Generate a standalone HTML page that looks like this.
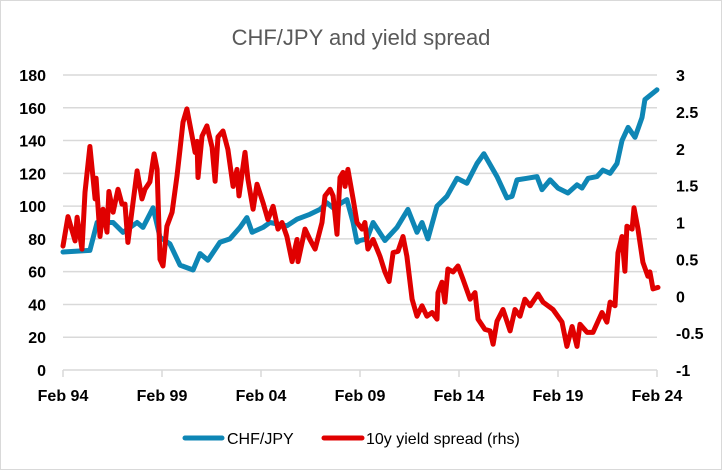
<!DOCTYPE html>
<html><head><meta charset="utf-8">
<style>
html,body{margin:0;padding:0;background:#fff;}
svg{display:block;font-family:"Liberation Sans",Calibri,sans-serif;}
</style></head>
<body>
<svg id="chart" width="722" height="470" viewBox="0 0 722 470" xmlns="http://www.w3.org/2000/svg">
<rect x="0.5" y="0.5" width="721" height="469" fill="#fff" stroke="#d9d9d9"/>
<text x="361" y="45" text-anchor="middle" font-size="22" fill="#595959">CHF/JPY and yield spread</text>
<g id="grid"></g>
<g id="axes"></g>
<g id="series"></g>
<g>
<line x1="185" y1="438" x2="222" y2="438" stroke="#0E86B5" stroke-width="5" stroke-linecap="round"/>
<text x="227" y="444" font-size="16" fill="#000">CHF/JPY</text>
<line x1="324" y1="438" x2="362" y2="438" stroke="#E00000" stroke-width="5" stroke-linecap="round"/>
<text x="366" y="444" font-size="16" fill="#000">10y yield spread (rhs)</text>
</g>
</svg>
<script>
const leftTicks=[0,20,40,60,80,100,120,140,160,180];
const rightTicks=[-1,-0.5,0,0.5,1,1.5,2,2.5,3];
const xTickYears=[1994.08,1999.08,2004.08,2009.08,2014.08,2019.08,2024.08];
const xTickLabels=["Feb 94","Feb 99","Feb 04","Feb 09","Feb 14","Feb 19","Feb 24"];
const chfDates=[1994.08,1995.44,1995.80,1996.61,1997.11,1997.82,1998.12,1998.63,1998.98,1999.48,1999.99,2000.65,2001.00,2001.40,2002.01,2002.51,2003.02,2003.37,2003.63,2004.18,2004.53,2005.39,2005.90,2006.55,2007.06,2007.41,2007.72,2008.42,2008.73,2008.93,2009.08,2009.43,2009.74,2010.34,2010.95,2011.50,2011.96,2012.21,2012.51,2012.97,2013.47,2013.98,2014.48,2014.99,2015.34,2016.00,2016.50,2016.76,2017.01,2017.51,2018.02,2018.27,2018.68,2019.08,2019.58,2020.04,2020.29,2020.60,2021.05,2021.35,2021.71,2022.06,2022.31,2022.62,2022.97,2023.32,2023.47,2024.08];
const chfValues=[72,73,90,90,84,90,87,99,81,77,64,61,71,67,78,80,87,93,84,87,90,88,92,95,98,102,99,104,90,78,79,80,90,79,87,98,84,90,80,100,106,117,114,126,132,118,105,106,116,117,118,110,116,111,108,113,111,117,118,122,120,126,140,148,142,154,165,171];
const spreadDates=[1994.08,1994.33,1994.69,1994.79,1995.04,1995.19,1995.44,1995.70,1995.75,1995.95,1996.10,1996.30,1996.40,1996.61,1996.86,1997.06,1997.21,1997.36,1997.82,1998.07,1998.22,1998.47,1998.68,1998.83,1998.98,1999.13,1999.33,1999.59,1999.84,1999.99,2000.14,2000.34,2000.60,2000.75,2000.85,2000.90,2001.10,2001.35,2001.61,2001.76,2001.91,2002.16,2002.41,2002.67,2002.87,2002.97,2003.27,2003.42,2003.68,2003.88,2004.18,2004.43,2004.69,2004.94,2005.14,2005.39,2005.65,2005.90,2005.95,2006.30,2006.55,2006.81,2007.16,2007.31,2007.57,2007.72,2007.92,2008.07,2008.22,2008.32,2008.47,2008.73,2008.93,2009.18,2009.33,2009.48,2009.74,2010.09,2010.34,2010.55,2010.75,2011.00,2011.25,2011.45,2011.71,2011.96,2012.21,2012.46,2012.72,2012.97,2013.02,2013.22,2013.37,2013.52,2013.78,2014.03,2014.28,2014.64,2014.89,2015.04,2015.39,2015.65,2015.80,2016.00,2016.30,2016.66,2016.91,2017.16,2017.41,2017.67,2018.07,2018.32,2018.83,2019.28,2019.53,2019.79,2020.04,2020.19,2020.55,2020.85,2021.30,2021.55,2021.71,2021.96,2022.11,2022.31,2022.46,2022.56,2022.82,2022.92,2023.12,2023.37,2023.62,2023.72,2023.88,2024.13];
const spreadValues=[0.68,1.08,0.75,1.07,0.64,1.41,2.03,1.32,1.60,0.81,1.18,0.87,1.42,1.14,1.45,1.25,1.25,0.73,1.70,1.32,1.45,1.55,1.93,1.72,0.50,0.41,0.95,1.14,1.63,1.99,2.36,2.54,2.17,1.95,2.10,1.61,2.17,2.31,2.02,1.56,2.16,2.24,1.99,1.49,1.72,1.36,1.95,1.59,1.18,1.52,1.27,1.04,1.22,0.91,1.00,0.81,0.47,0.77,0.47,0.91,0.77,0.64,1.00,1.36,1.45,1.36,0.84,1.61,1.68,1.49,1.72,1.32,1.00,0.91,1.00,0.64,0.77,0.54,0.33,0.20,0.59,0.61,0.81,0.54,-0.04,-0.27,-0.13,-0.27,-0.22,-0.31,0.05,0.19,-0.08,0.37,0.33,0.41,0.23,-0.04,0.05,-0.31,-0.45,-0.47,-0.65,-0.34,-0.18,-0.47,-0.18,-0.27,-0.04,-0.13,0.03,-0.08,-0.18,-0.35,-0.68,-0.41,-0.68,-0.38,-0.49,-0.49,-0.22,-0.35,-0.08,-0.13,0.59,0.81,0.34,0.95,0.91,1.20,0.91,0.46,0.27,0.33,0.10,0.12];

const NS="http://www.w3.org/2000/svg";
const X0=63,X1=657,YT=75,YB=370;
const xScale=yr=>X0+(yr-1994.08)/(2024.08-1994.08)*(X1-X0);
const yLeft=v=>YB-(v-0)/(180-0)*(YB-YT);
const yRight=v=>YB-(v+1)/(3+1)*(YB-YT);
function mk(tag,attrs,parent){const e=document.createElementNS(NS,tag);for(const k in attrs)e.setAttribute(k,attrs[k]);parent.appendChild(e);return e;}
const grid=document.getElementById('grid'),axes=document.getElementById('axes'),series=document.getElementById('series');
leftTicks.forEach(v=>{
  if(v>0){const l=mk('line',{x1:X0,x2:X1,y1:yLeft(v),y2:yLeft(v),stroke:'#d9d9d9','stroke-width':1.5},grid);
  
  }
  const t=mk('text',{x:46,y:yLeft(v)+6,'text-anchor':'end','font-size':16,'font-weight':'bold',fill:'#000'},axes);
  t.textContent=v;
  
  
});
rightTicks.forEach(v=>{
  const t=mk('text',{x:676,y:yRight(v)+6,'text-anchor':'start','font-size':16,'font-weight':'bold',fill:'#000'},axes);
  t.textContent=v;
  
  
});
const base=mk('line',{x1:X0,x2:X1,y1:YB,y2:YB,stroke:'#d9d9d9','stroke-width':1.5},axes);


xTickYears.forEach((yr,i)=>{
  const tk=mk('line',{x1:xScale(yr),x2:xScale(yr),y1:YB,y2:YB+7,stroke:'#d9d9d9','stroke-width':1.5},axes);
  
  
  const t=mk('text',{x:xScale(yr),y:401,'text-anchor':'middle','font-size':16,'font-weight':'bold',fill:'#000'},axes);
  t.textContent=xTickLabels[i];
  
  
});
function path(dates,vals,ys,color,name){
  const d=dates.map((yr,i)=>(i?'L':'M')+xScale(yr).toFixed(1)+','+ys(vals[i]).toFixed(1)).join('');
  const p=mk('path',{d:d,fill:'none',stroke:color,'stroke-width':5,'stroke-linejoin':'round','stroke-linecap':'round'},series);
  
  
}
path(chfDates,chfValues,yLeft,'#0E86B5','chfjpy-line');
path(spreadDates,spreadValues,yRight,'#E00000','yield-spread-line');
</script>
</body></html>
